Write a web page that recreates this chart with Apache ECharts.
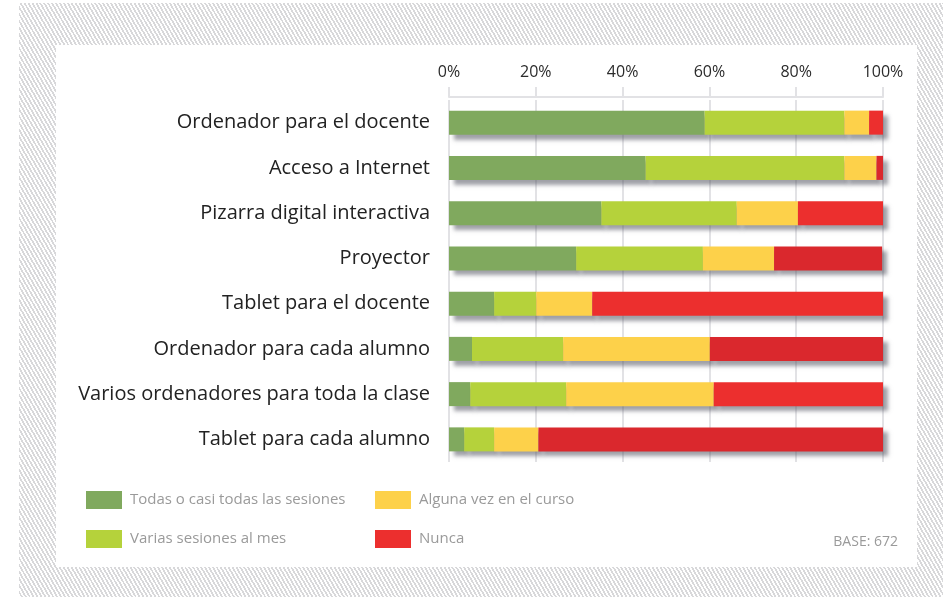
<!DOCTYPE html>
<html>
<head>
<meta charset="utf-8">
<script src="https://cdn.jsdelivr.net/npm/echarts@6/dist/echarts.min.js"></script>
<style>
  html, body { margin: 0; padding: 0; background: #fff; }
  #wrap { position: relative; width: 943px; height: 597px; overflow: hidden; }
  #hatch {
    position: absolute; left: 19px; top: 3px; right: 0; bottom: 0;
    background: repeating-linear-gradient(60deg, #ffffff 0px, #ffffff 1.7px, #d8d8da 1.7px, #d8d8da 3.4px);
  }
  #chart { position: absolute; left: 0; top: 0; width: 943px; height: 597px; }
</style>
</head>
<body>
<div id="wrap">
  <div id="hatch"></div>
  <div id="chart"></div>
</div>
<script>
// datos (porcentaje de uso)
var categories = ['Ordenador para el docente', 'Acceso a Internet', 'Pizarra digital interactiva', 'Proyector',
  'Tablet para el docente', 'Ordenador para cada alumno', 'Varios ordenadores para toda la clase', 'Tablet para cada alumno'];
var todas = [58.9, 45.3, 35.1, 29.3, 10.4, 5.3, 4.9, 3.5];
var varias = [32.2, 45.8, 31.2, 29.2, 9.7, 21.0, 22.1, 6.9];
var alguna = [5.7, 7.4, 14.1, 16.4, 12.9, 33.8, 34.0, 10.2];
var nunca = [3.2, 1.5, 19.6, 24.9, 67.0, 39.9, 39.0, 79.4];
var seriesNames = ['Todas o casi todas las sesiones', 'Varias sesiones al mes', 'Alguna vez en el curso', 'Nunca'];
var tickLabels = ['0%', '20%', '40%', '60%', '80%', '100%'];
var baseText = 'BASE: 672';

var colors = ['#80a95e', '#b5d23b', '#fdd14a', '#ec2f2e'];
var darkRed = '#da282d';
var gridColor = '#e2e2e5';
var font = '"Open Sans", "Noto Sans", sans-serif';

var chart = echarts.init(document.getElementById('chart'));

function barSeries(name, data, color) {
  return {
    name: name,
    type: 'bar',
    stack: 'total',
    barWidth: 24,
    data: data,
    itemStyle: {
      color: color,
      shadowColor: 'rgba(80, 82, 95, 0.55)',
      shadowBlur: 4,
      shadowOffsetX: 5,
      shadowOffsetY: 5
    },
    emphasis: { disabled: true }
  };
}

var nuncaData = nunca.map(function (v, i) {
  return i % 2 ? { value: v, itemStyle: { color: darkRed } } : v;
});

var legendText = { color: '#9a9a9a', fontSize: 15, fontFamily: font, padding: [0, 0, 0, 3] };

chart.setOption({
  animation: false,
  textStyle: { fontFamily: font },
  grid: { left: 449, right: 60, top: 100, bottom: 135 },
  graphic: [
    {
      type: 'rect', z: -10, silent: true,
      shape: { x: 56, y: 45, width: 861, height: 522 },
      style: { fill: '#ffffff' }
    },
    {
      type: 'text', right: 45, top: 535, silent: true,
      style: { text: baseText, fill: '#9a9a9a', fontSize: 14, fontFamily: font }
    }
  ],
  legend: [
    {
      left: 86, top: 491, orient: 'vertical', padding: 0,
      itemWidth: 36, itemHeight: 18, itemGap: 21,
      icon: 'rect',
      data: [seriesNames[0], seriesNames[1]],
      textStyle: legendText
    },
    {
      left: 375, top: 491, orient: 'vertical', padding: 0,
      itemWidth: 36, itemHeight: 18, itemGap: 21,
      icon: 'rect',
      data: [seriesNames[2], seriesNames[3]],
      textStyle: legendText
    }
  ],
  xAxis: {
    type: 'value',
    position: 'top',
    offset: 3,
    min: 0,
    max: 100,
    interval: 20,
    axisLine: { show: true, lineStyle: { color: gridColor, width: 2 } },
    axisTick: { show: true, length: 10, lineStyle: { color: gridColor, width: 2 } },
    splitLine: { show: true, lineStyle: { color: gridColor, width: 2 } },
    axisLabel: {
      margin: 17,
      color: '#2b2b2b',
      fontSize: 16,
      fontFamily: font,
      formatter: function (v) { return tickLabels[Math.round(v / 20)]; }
    }
  },
  yAxis: {
    type: 'category',
    inverse: true,
    data: categories,
    axisLine: { show: false },
    axisTick: { show: false },
    axisLabel: { margin: 19, color: '#222222', fontSize: 20, fontFamily: font }
  },
  series: [
    barSeries(seriesNames[0], todas, colors[0]),
    barSeries(seriesNames[1], varias, colors[1]),
    barSeries(seriesNames[2], alguna, colors[2]),
    barSeries(seriesNames[3], nuncaData, colors[3])
  ]
});
</script>
</body>
</html>
